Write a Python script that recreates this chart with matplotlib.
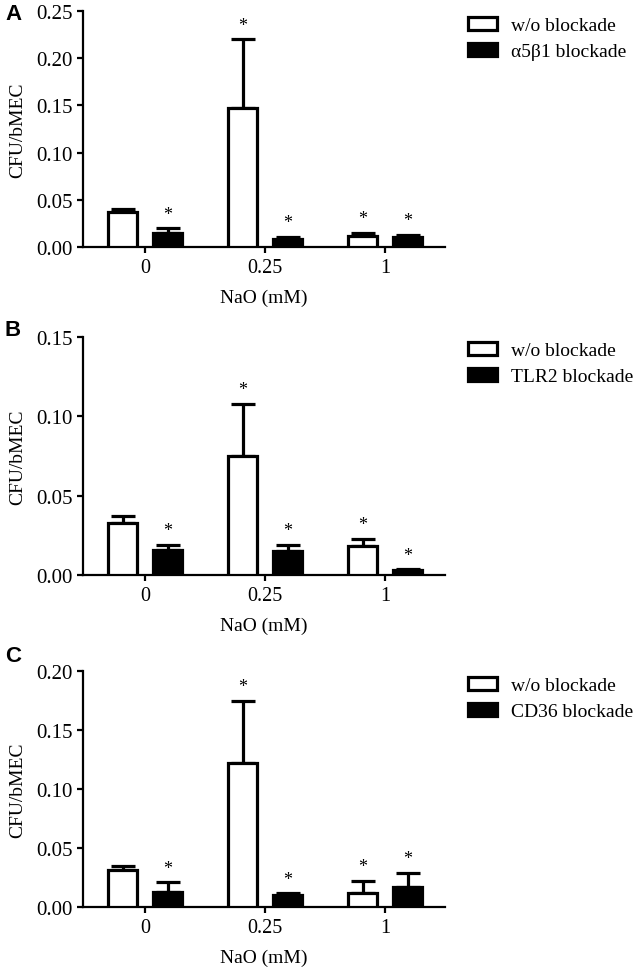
import numpy as np
import matplotlib.pyplot as plt
from matplotlib.patches import Patch

plt.rcParams['font.family'] = ['Liberation Serif', 'DejaVu Serif']

# x categories (NaO concentration)
groups = ['0', '0.25', '1']

# panel A: alpha5beta1
a_wo = [0.037, 0.147, 0.012]
a_wo_err = [0.003, 0.073, 0.003]
a_bl = [0.015, 0.009, 0.011]
a_bl_err = [0.005, 0.002, 0.002]

# panel B: TLR2
b_wo = [0.033, 0.075, 0.018]
b_wo_err = [0.004, 0.033, 0.005]
b_bl = [0.016, 0.015, 0.003]
b_bl_err = [0.003, 0.004, 0.0006]

# panel C: CD36
c_wo = [0.031, 0.122, 0.012]
c_wo_err = [0.004, 0.053, 0.010]
c_bl = [0.013, 0.010, 0.017]
c_bl_err = [0.008, 0.0015, 0.012]

# significance stars (per bar)
stars_wo = [False, True, True]
stars_bl = [True, True, True]

panels = [
    ('A', 'α5β1 blockade', a_wo, a_wo_err, a_bl, a_bl_err, 0.25),
    ('B', 'TLR2 blockade', b_wo, b_wo_err, b_bl, b_bl_err, 0.15),
    ('C', 'CD36 blockade', c_wo, c_wo_err, c_bl, c_bl_err, 0.20),
]

W, H = 638, 970
fig = plt.figure(figsize=(W / 100, H / 100), dpi=100)

# axes boxes in pixels: (top, bottom)
boxes = [(12, 248), (338, 576), (672, 908)]
leg_tops = [18, 343, 678]
lab_y = [15, 330, 657]
left_px, right_px = 83, 445

lw = 2.3
off = 0.1875
bw = 0.245
x = np.arange(len(groups))

for (lab, bl_name, wo, wo_e, bl, bl_e, ymax), (top, bot), lt, ly in zip(panels, boxes, leg_tops, lab_y):
    ax = fig.add_axes([left_px / W, 1 - bot / H, (right_px - left_px) / W, (bot - top) / H])
    ax.bar(x - off, wo, bw, color='white', edgecolor='black', linewidth=lw, zorder=3)
    ax.bar(x + off, bl, bw, color='black', edgecolor='black', linewidth=lw, zorder=3)
    ax.errorbar(x - off, wo, yerr=[np.zeros(3), wo_e], fmt='none', ecolor='black',
                elinewidth=lw, capsize=8.5, capthick=lw, zorder=2)
    ax.errorbar(x + off, bl, yerr=[np.zeros(3), bl_e], fmt='none', ecolor='black',
                elinewidth=lw, capsize=8.5, capthick=lw, zorder=2)
    for i in range(3):
        if stars_wo[i]:
            ax.annotate('*', (x[i] - off, wo[i] + wo_e[i]), xytext=(0, 4),
                        textcoords='offset points', ha='center', va='bottom', fontsize=13)
        if stars_bl[i]:
            ax.annotate('*', (x[i] + off, bl[i] + bl_e[i]), xytext=(0, 4),
                        textcoords='offset points', ha='center', va='bottom', fontsize=13)

    ax.set_xlim(-0.517, 2.5)
    ax.set_ylim(0, ymax)
    ax.set_yticks(np.arange(0, ymax + 1e-9, 0.05))
    ax.set_yticklabels([f'{v:.2f}' for v in np.arange(0, ymax + 1e-9, 0.05)])
    ax.set_xticks(x)
    ax.set_xticklabels(groups)
    for s in ['top', 'right']:
        ax.spines[s].set_visible(False)
    for s in ['left', 'bottom']:
        ax.spines[s].set_linewidth(1.6)
    ax.tick_params(axis='both', direction='out', length=4, width=1.6, labelsize=15)
    ax.tick_params(axis='x', labelsize=14.5, pad=4)
    ax.set_ylabel('CFU/bMEC', fontsize=14, labelpad=7)
    ax.set_xlabel('NaO (mM)', fontsize=14, labelpad=8)
    ax.patch.set_visible(False)

    handles = [Patch(facecolor='white', edgecolor='black', linewidth=lw),
               Patch(facecolor='black', edgecolor='black', linewidth=lw)]
    fig.legend(handles, ['w/o blockade', bl_name], loc='upper left',
               bbox_to_anchor=(468 / W, 1 - lt / H), bbox_transform=fig.transFigure,
               frameon=False, fontsize=14, handlelength=1.5, handleheight=0.65,
               handletextpad=0.7, labelspacing=0.45, borderpad=0, borderaxespad=0)

    fig.text(13 / W, 1 - ly / H, lab, ha='center', va='center', fontsize=16,
             fontweight='bold', family=['Liberation Sans', 'DejaVu Sans'])

fig.savefig('out.png', dpi=100)
